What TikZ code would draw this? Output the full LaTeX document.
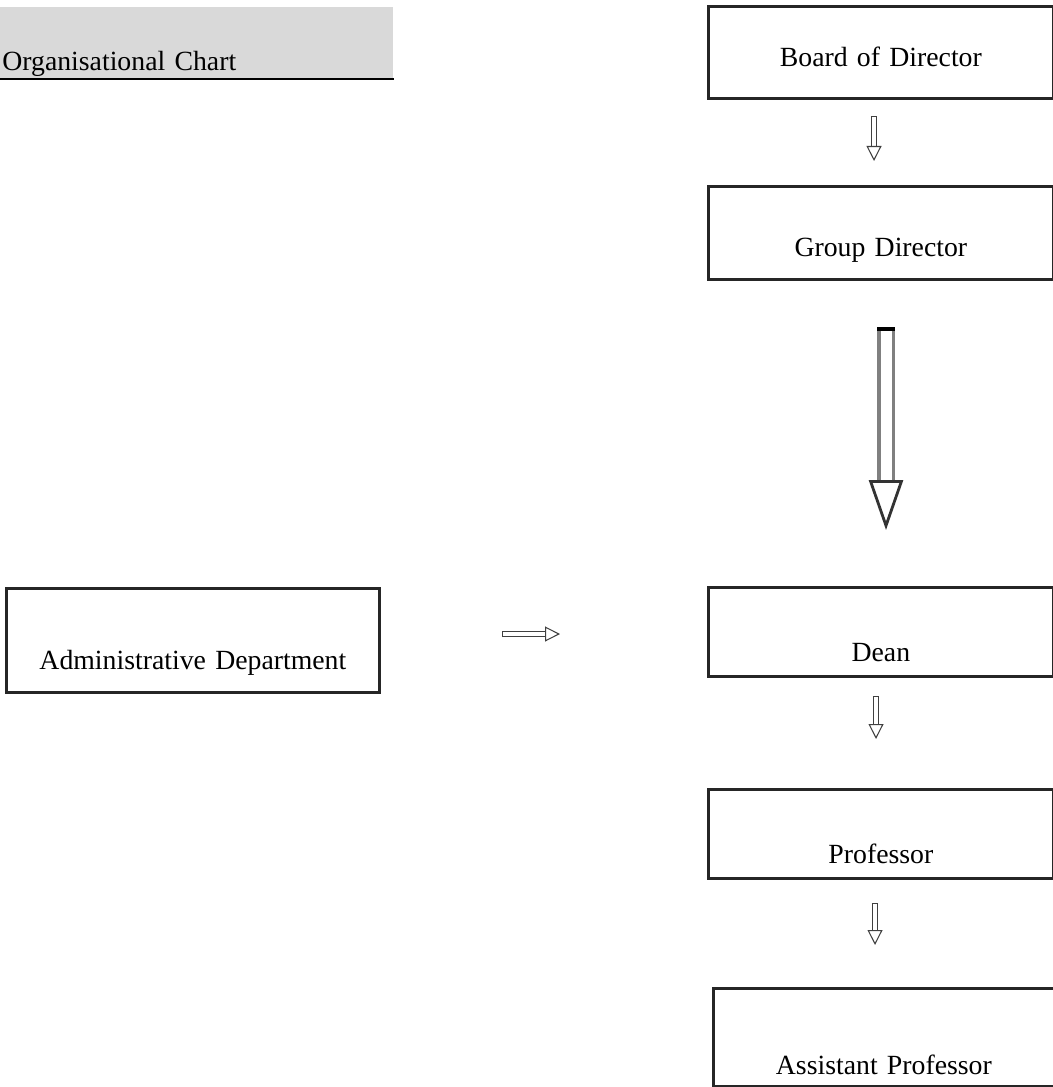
\documentclass[tikz,border=0pt]{standalone}
\usepackage{fontspec}
\setmainfont{Liberation Serif}
\usetikzlibrary{arrows.meta}
\tikzset{
  orgbox/.style={draw=black!85, line width=1.6pt, inner sep=0pt, align=center},
  blockarrow/.style={draw=black!75, double=white, double distance=0.08cm, line width=0.6pt,
    {Bar[width=3.5pt, line width=0.6pt]}-{Triangle[open, length=0.3cm, width=0.3cm, line width=0.6pt]}},
}
\begin{document}
\begin{tikzpicture}[x=0.02cm,y=-0.02cm]
\useasboundingbox (0,0) rectangle (1053,1087);
\fontsize{15.8}{18}\selectfont
% heading band
\node[fill=black!15, anchor=north west, inner xsep=0.04cm, inner ysep=0pt,
  text width=7.78cm, text height=1.26cm, text depth=0.16cm, align=left] (title) at (0,7) {Organisational Chart};
\draw[line width=1.2pt] (title.south west) -- (title.south east);
% chain on the right
\node[orgbox, anchor=north west, text width=6.9cm, text height=1.2cm, text depth=0.64cm] (board) at (707,5) {Board of Director};
\node[orgbox, anchor=north west, text width=6.9cm, text height=1.4cm, text depth=0.46cm] (group) at (707,185) {Group Director};
\node[orgbox, anchor=north west, text width=6.9cm, text height=1.48cm, text depth=0.3cm] (dean) at (707,586) {Dean};
\node[orgbox, anchor=north west, text width=6.9cm, text height=1.48cm, text depth=0.3cm] (prof) at (707,788) {Professor};
\node[orgbox, anchor=north west, text width=6.82cm, text height=1.72cm, text depth=0.24cm] (asst) at (712,987) {Assistant Professor};
% left box
\node[orgbox, anchor=north west, text width=7.46cm, text height=1.62cm, text depth=0.46cm] (admin) at (5,587) {Administrative Department};
% arrows
\coordinate (a1s) at (874,116);  \coordinate (a1e) at (874,161);
\coordinate (a2s) at (886,327);  \coordinate (a2e) at (886,530);
\coordinate (a3s) at (876,696);  \coordinate (a3e) at (876,739);
\coordinate (a4s) at (875,903);  \coordinate (a4e) at (875,945);
\coordinate (a5s) at (502,634);  \coordinate (a5e) at (560,634);
\draw[blockarrow] (a1s) -- (a1e);
\draw[blockarrow, draw=black!50, double distance=0.22cm, line width=2pt,
  {Bar[width=0.36cm, line width=2.5pt, color=black]}-{Triangle[open, length=1.0cm, width=0.68cm, line width=1.6pt, color=black!80]}] (a2s) -- (a2e);
\draw[blockarrow] (a3s) -- (a3e);
\draw[blockarrow] (a4s) -- (a4e);
\draw[blockarrow] (a5s) -- (a5e);
\end{tikzpicture}
\end{document}
